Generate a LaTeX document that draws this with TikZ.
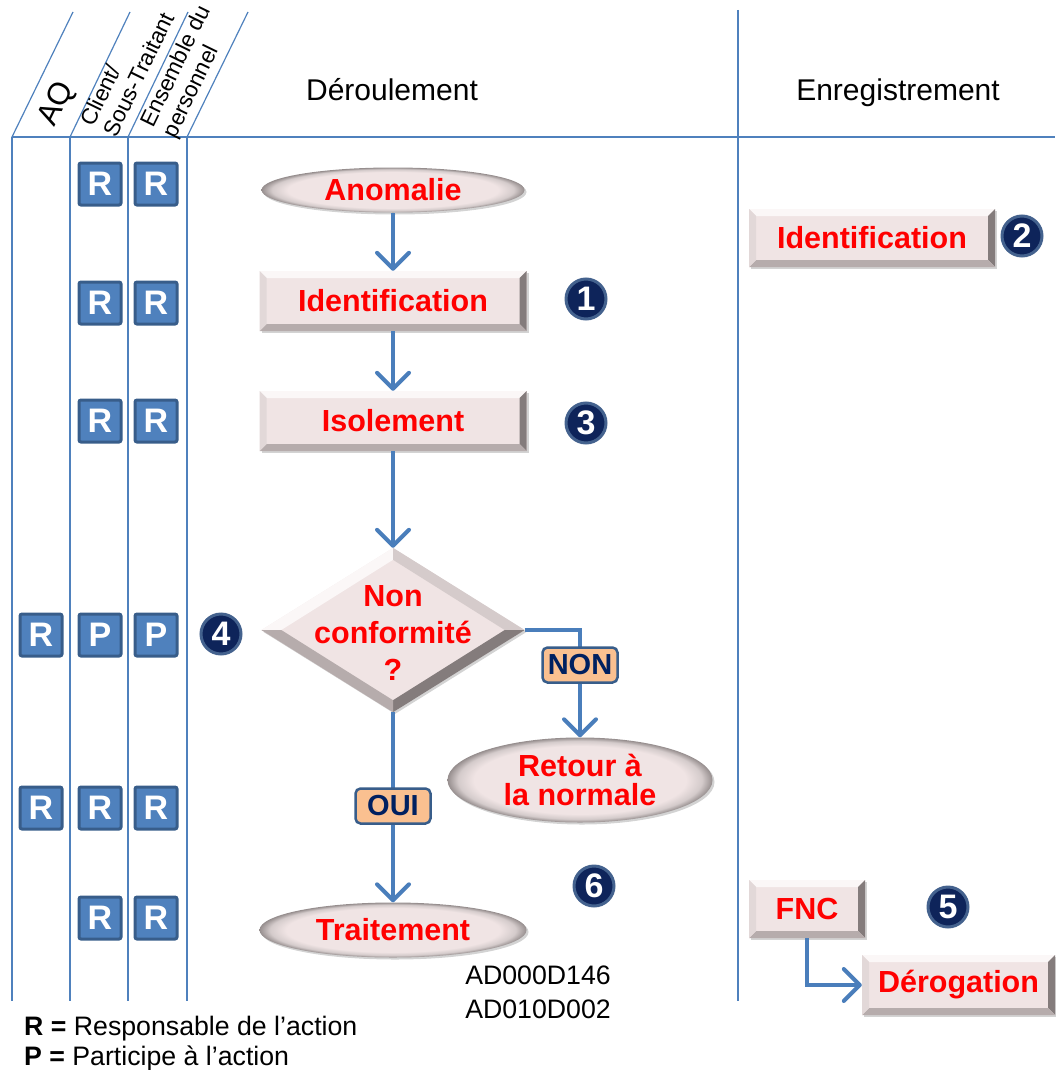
\documentclass[tikz,border=0pt]{standalone}
\usepackage{fontspec}
\setmainfont{Liberation Sans}
\usetikzlibrary{arrows.meta,shapes.geometric,shadows,calc}

\definecolor{gridcol}{RGB}{79,129,189}
\definecolor{flowcol}{RGB}{74,126,187}
\definecolor{boxfill}{RGB}{240,228,228}
\definecolor{bevtop}{RGB}{251,247,247}
\definecolor{bevleft}{RGB}{226,216,216}
\definecolor{bevbot}{RGB}{182,172,172}
\definecolor{bevright}{RGB}{132,124,124}
\definecolor{rimA}{RGB}{212,203,203}
\definecolor{rimB}{RGB}{150,142,142}
\definecolor{tagfill}{RGB}{79,129,189}
\definecolor{tagline}{RGB}{56,93,138}
\definecolor{navy}{RGB}{14,36,90}
\definecolor{navyring}{RGB}{68,98,142}
\definecolor{peach}{RGB}{250,192,144}
\definecolor{labtext}{RGB}{0,32,96}

\pgfdeclareradialshading{ovalrim}{\pgfpoint{0bp}{0bp}}{%
  color(0bp)=(boxfill); color(20bp)=(boxfill); color(23bp)=(rimA);
  color(25bp)=(rimB); color(50bp)=(rimB)}

\tikzset{
  gridline/.style={draw=gridcol, line width=1.2pt},
  flowtext/.style={text=red, font=\bfseries\fontsize{30.5}{34}\selectfont},
  softshadow/.style={drop shadow={opacity=0.35, shadow xshift=2pt, shadow yshift=-2pt}},
  bevelbox/.style={rectangle, inner sep=0pt, fill=boxfill, flowtext, softshadow,
    path picture={
      \coordinate (pa) at (path picture bounding box.north west);
      \coordinate (pb) at (path picture bounding box.north east);
      \coordinate (pc) at (path picture bounding box.south east);
      \coordinate (pd) at (path picture bounding box.south west);
      \fill[bevtop] (pa) -- (pb) -- ([shift={(-7pt,-7pt)}]pb) -- ([shift={(7pt,-7pt)}]pa) -- cycle;
      \fill[bevright] (pb) -- (pc) -- ([shift={(-7pt,7pt)}]pc) -- ([shift={(-7pt,-7pt)}]pb) -- cycle;
      \fill[bevbot] (pc) -- (pd) -- ([shift={(7pt,7pt)}]pd) -- ([shift={(-7pt,7pt)}]pc) -- cycle;
      \fill[bevleft] (pd) -- (pa) -- ([shift={(7pt,-7pt)}]pa) -- ([shift={(7pt,7pt)}]pd) -- cycle;
    }},
  oval/.style={ellipse, inner sep=0pt, shade, shading=ovalrim, flowtext, softshadow},
  flowarrow/.style={draw=flowcol, line width=4pt,
    -{Straight Barb[length=16pt,width=32pt,round]}},
  choice/.style={rectangle, rounded corners=5pt, fill=peach, draw=tagline,
    line width=2.5pt, text=labtext, font=\bfseries\fontsize{29}{30}\selectfont,
    minimum width=75pt, minimum height=35pt, inner sep=1pt},
  numdot/.style={circle, minimum size=40pt, inner sep=0pt, fill=navy,
    draw=navyring, line width=3pt, text=white,
    font=\bfseries\fontsize{34}{34}\selectfont},
  tag/.style={rectangle, rounded corners=2pt, minimum size=42pt, inner sep=0pt,
    fill=tagfill, draw=tagline, line width=3pt, text=white,
    font=\bfseries\fontsize{34}{34}\selectfont},
  head/.style={inner sep=0pt, font=\fontsize{30}{32}\selectfont},
  rothead/.style={inner sep=0pt, rotate=64},
  legend/.style={inner sep=0pt, font=\fontsize{26.7}{28}\selectfont},
}

\begin{document}
\begin{tikzpicture}[x=1pt,y=-1pt]
\useasboundingbox (0,0) rectangle (1055,1070);

% swimlane grid
\draw[gridline] (12,137) -- (1055,137);
\foreach \xa/\xb in {12/73,70/130,128/188,187/248}
  \draw[gridline] (\xa,137) -- (\xb,12);
\foreach \x in {12,70,128,187}
  \draw[gridline] (\x,137) -- (\x,1001);
\draw[gridline] (738,10) -- (738,1001);

% column headings
\node[head, anchor=base] (hder) at (392,101) {Déroulement};
\node[head, anchor=base] (henr) at (898,101) {Enregistrement};
\node[rothead, font=\fontsize{31}{31}\selectfont] (haq) at (57,104) {AQ};
\node[rothead, align=left, font=\fontsize{22.5}{25}\selectfont] (hcli) at (127,69) {Client/\\Sous-Traitant};
\node[rothead, align=left, font=\fontsize{22.5}{25}\selectfont] (hens) at (188,72) {Ensemble du\\personnel};

% process steps
\node[oval, minimum width=263pt, minimum height=45pt] (anom) at (393,190) {Anomalie};
\node[bevelbox, minimum width=267pt, minimum height=60pt] (ident) at (393,301) {Identification};
\node[bevelbox, minimum width=267pt, minimum height=60pt] (isol) at (393,421) {Isolement};

\node[diamond, inner sep=0pt, fill=boxfill, softshadow,
      minimum width=263pt, minimum height=164pt] (nc) at (393,630) {};
\fill[bevtop] (nc.west) -- (nc.north) -- ($(nc.north)+(0,12)$) -- ($(nc.west)+(20,0)$) -- cycle;
\fill[bevleft!70!bevbot] (nc.north) -- (nc.east) -- ($(nc.east)+(-20,0)$) -- ($(nc.north)+(0,12)$) -- cycle;
\fill[bevright] (nc.east) -- (nc.south) -- ($(nc.south)+(0,-12)$) -- ($(nc.east)+(-20,0)$) -- cycle;
\fill[bevbot] (nc.south) -- (nc.west) -- ($(nc.west)+(20,0)$) -- ($(nc.south)+(0,-12)$) -- cycle;
\node[flowtext, align=center, inner sep=0pt, font=\bfseries\fontsize{30.5}{37}\selectfont] (nctext) at (393,633) {Non\\conformité\\?};

\node[oval, minimum width=265pt, minimum height=85pt, align=center,
      font=\bfseries\fontsize{30.5}{29}\selectfont] (retour) at (580,780) {Retour à\\la normale};
\node[oval, minimum width=267pt, minimum height=55pt] (trait) at (393,930) {Traitement};

% records
\node[bevelbox, minimum width=246pt, minimum height=58pt] (ident2) at (872,238) {Identification};
\node[bevelbox, minimum width=116pt, minimum height=58pt] (fnc) at (807,909) {FNC};
\node[bevelbox, minimum width=193pt, minimum height=60pt] (derog) at (958.5,985) {Dérogation};

% connectors
\draw[flowarrow] (anom.south) -- (ident.north);
\draw[flowarrow] (ident.south) -- (isol.north);
\draw[flowarrow] (isol.south) -- (nc.north);
\draw[flowarrow] (nc.east) -| (retour.north);
\draw[flowarrow] (nc.south) -- (trait.north);
\draw[flowarrow] (fnc.south) |- (derog.west);

\node[choice] (non) at (580,665) {NON};
\node[choice] (oui) at (393,806) {OUI};

% step numbers
\node[numdot] (n1) at (586,299) {1};
\node[numdot] (n2) at (1022,236) {2};
\node[numdot] (n3) at (586,423) {3};
\node[numdot] (n4) at (221,634) {4};
\node[numdot] (n5) at (948,907) {5};
\node[numdot] (n6) at (594,886) {6};

% responsibility tags
\node[tag] (t1b) at (100,184) {R};
\node[tag] (t1c) at (156,184) {R};
\node[tag] (t2b) at (100,303) {R};
\node[tag] (t2c) at (156,303) {R};
\node[tag] (t3b) at (100,421) {R};
\node[tag] (t3c) at (156,421) {R};
\node[tag] (t4a) at (41,635) {R};
\node[tag] (t4b) at (100,635) {P};
\node[tag] (t4c) at (156,635) {P};
\node[tag] (t5a) at (41,808) {R};
\node[tag] (t5b) at (100,808) {R};
\node[tag] (t5c) at (156,808) {R};
\node[tag] (t6b) at (100,918) {R};
\node[tag] (t6c) at (156,918) {R};

% references and legend
\node[legend, anchor=base] (code1) at (538,984) {AD000D146};
\node[legend, anchor=base] (code2) at (538,1018) {AD010D002};
\node[legend, anchor=base west] (leg1) at (24,1035) {\textbf{R =} Responsable de l’action};
\node[legend, anchor=base west] (leg2) at (24,1065) {\textbf{P =} Participe à l’action};
\end{tikzpicture}
\end{document}
